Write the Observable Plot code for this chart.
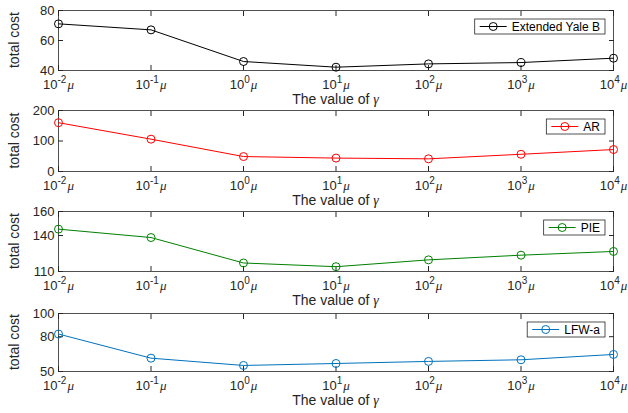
<!DOCTYPE html>
<html><head><meta charset="utf-8">
<script src="https://cdn.jsdelivr.net/npm/d3@7"></script>
<script src="https://cdn.jsdelivr.net/npm/@observablehq/plot@0.6"></script>
<style>
body{margin:0;background:#fff;}
#wrap{position:relative;width:628px;height:413px;overflow:hidden;font-family:"Liberation Sans",Arial,sans-serif;}
.panel{position:absolute;left:0;}
</style></head><body><div id="wrap"></div>
<script>
// gamma = 10^k * mu
const exponents = [-2, -1, 0, 1, 2, 3, 4];
const xTickExponents = ["-2", "-1", "0", "1", "2", "3", "4"];
const yaleB = [71.1, 67.1, 46.0, 42.2, 44.4, 45.3, 48.2];
const ar = [160, 106, 49, 44, 41.5, 56.5, 72];
const pie = [145.3, 138.3, 117.1, 114.0, 119.7, 123.6, 126.7];
const lfwa = [82.3, 61.5, 55.2, 56.9, 58.7, 60.1, 64.7];
const seriesNames = ["Extended Yale B", "AR", "PIE", "LFW-a"];
const seriesValues = [yaleB, ar, pie, lfwa];
const seriesColors = ["#000000", "#ff0000", "#008000", "#0072bd"];
const yDomains = [[40, 80], [0, 200], [110, 160], [50, 100]];
const yTicks = [[40, 60, 80], [0, 100, 200], [110, 140, 160], [50, 80, 100]];
const xLabel = "The value of ";
const xLabelSymbol = "γ";
const yLabel = "total cost";

const panelTops = [0, 100, 201, 303];
const plotHeights = [60, 61, 60, 58];
const axisColor = "#262626";
const wrap = document.getElementById("wrap");

seriesNames.forEach((name, i) => {
  const data = exponents.map((e, j) => ({e, v: seriesValues[i][j]}));
  const mt = 10, mb = 40, ml = 58, mr = 15, ph = plotHeights[i];
  const chart = Plot.plot({
    width: 628, height: mt + ph + mb,
    marginLeft: ml, marginRight: mr, marginTop: mt, marginBottom: mb,
    style: {background: "transparent", fontFamily: '"Liberation Sans", Arial, sans-serif', fontSize: "13px", color: axisColor, overflow: "visible"},
    x: {type: "linear", domain: [-2, 4]},
    y: {domain: yDomains[i]},
    marks: [
      Plot.axisX({anchor: "bottom", ticks: exponents, tickSize: -5, tickPadding: 14, tickFormat: d => xTickExponents[exponents.indexOf(d)], label: null}),
      Plot.axisX({anchor: "top", ticks: exponents, tickSize: -5, tickFormat: () => "", label: null}),
      Plot.axisY({anchor: "left", ticks: yTicks[i], tickSize: -5, tickPadding: 9, label: null}),
      Plot.axisY({anchor: "right", ticks: yTicks[i], tickSize: -5, tickFormat: () => "", label: null}),
      Plot.frame({stroke: axisColor, strokeWidth: 0.8}),
      Plot.line(data, {x: "e", y: "v", stroke: seriesColors[i], strokeWidth: 1}),
      Plot.dot(data, {x: "e", y: "v", r: 4, stroke: seriesColors[i], fill: "none", strokeWidth: 1})
    ]
  });
  const div = document.createElement("div");
  div.className = "panel";
  div.style.top = panelTops[i] + "px";
  div.appendChild(chart);
  wrap.appendChild(div);
  const svg = d3.select(chart);

  // superscript tick labels: 10^{k} mu
  svg.selectAll('g[aria-label="x-axis tick label"] text').each(function() {
    const t = d3.select(this);
    const k = t.text();
    if (k === "") return;
    t.text("");
    t.append("tspan").text("10");
    t.append("tspan").attr("dy", -6).attr("font-size", 10).text(k);
    t.append("tspan").attr("dy", 6).attr("dx", 1).attr("font-family", '"Liberation Serif", serif').attr("font-style", "italic").attr("font-size", 13).text("μ");
  });

  // axis titles
  const xl = svg.append("text").attr("x", (ml + 628 - mr) / 2).attr("y", mt + ph + 29).attr("dy", "0.35em")
    .attr("text-anchor", "middle").attr("font-size", 14).attr("fill", axisColor).text(xLabel);
  xl.append("tspan").attr("font-family", '"Liberation Serif", serif').attr("font-style", "italic").text(xLabelSymbol);
  svg.append("text").attr("transform", `translate(14,${mt + ph / 2}) rotate(-90)`).attr("dy", "0.35em")
    .attr("text-anchor", "middle").attr("font-size", 14).attr("fill", axisColor).text(yLabel);

  // legend box (upper right)
  const right = 628 - mr - 8, top = mt + 9, h = 15;
  const g = svg.append("g").attr("aria-label", "legend");
  const rect = g.append("rect").attr("y", top).attr("height", h).attr("fill", "white").attr("stroke", axisColor).attr("stroke-width", 0.8);
  const txt = g.append("text").attr("y", top + h / 2).attr("dy", "0.35em").attr("text-anchor", "start").attr("font-size", 12).attr("fill", "#000").text(name);
  const tw = txt.node().getComputedTextLength();
  const left = right - tw - 42;
  rect.attr("x", left).attr("width", right - left);
  txt.attr("x", left + 37);
  g.append("line").attr("x1", left + 5).attr("x2", left + 32).attr("y1", top + h / 2).attr("y2", top + h / 2).attr("stroke", seriesColors[i]).attr("stroke-width", 1);
  g.append("circle").attr("cx", left + 18.5).attr("cy", top + h / 2).attr("r", 4).attr("fill", "none").attr("stroke", seriesColors[i]).attr("stroke-width", 1);
});
</script></body></html>
